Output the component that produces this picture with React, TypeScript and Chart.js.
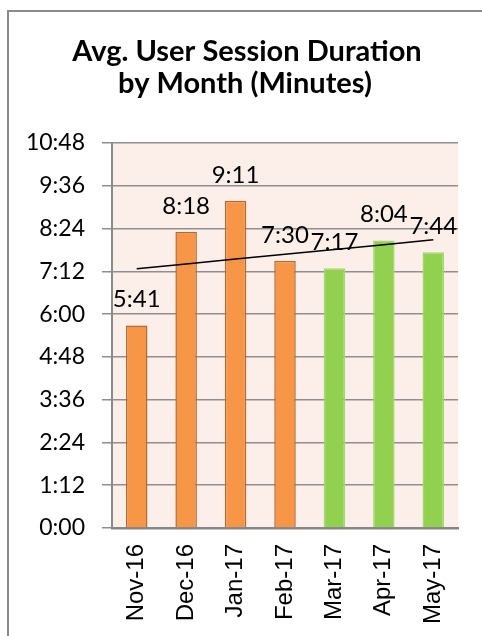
import React, { useEffect, useRef } from "react";
import { Chart, registerables } from "chart.js";

Chart.register(...registerables);

const titleLines = ["Avg. User Session Duration", "by Month (Minutes)"];
const categories = ["Nov-16", "Dec-16", "Jan-17", "Feb-17", "Mar-17", "Apr-17", "May-17"];
// average session duration in seconds (5:41, 8:18, 9:11, 7:30, 7:17, 8:04, 7:44)
const durationSeconds = [341, 498, 551, 450, 437, 484, 464];
const isRecentPeriod = [false, false, false, false, true, true, true];
const yMax = 648; // 10:48
const yStep = 72; // 1:12

const ORANGE = "#F79646";
const ORANGE_BORDER = "#B5692E";
const GREEN = "#92D050";
const GREEN_BORDER = "#A3D86B";

function fmt(sec: number): string {
  const m = Math.floor(sec / 60);
  const s = Math.round(sec - m * 60);
  return `${m}:${s < 10 ? "0" : ""}${s}`;
}

function linearTrend(values: number[]): number[] {
  const n = values.length;
  const mx = (n - 1) / 2;
  const my = values.reduce((a, b) => a + b, 0) / n;
  let sxy = 0;
  let sxx = 0;
  values.forEach((v, i) => {
    sxy += (i - mx) * (v - my);
    sxx += (i - mx) * (i - mx);
  });
  const slope = sxy / sxx;
  return values.map((_, i) => my + slope * (i - mx));
}

const decorPlugin = {
  id: "decor",
  beforeDraw(chart: any) {
    const { ctx, chartArea, width, height } = chart;
    ctx.save();
    ctx.fillStyle = "#FFFFFF";
    ctx.fillRect(0, 0, width, height);
    ctx.fillStyle = "#FCEEE9";
    ctx.fillRect(chartArea.left, chartArea.top, chartArea.right - chartArea.left, chartArea.bottom - chartArea.top);
    ctx.restore();
  },
  afterDraw(chart: any) {
    const { ctx, width, height } = chart;
    ctx.save();
    // outer frame
    ctx.strokeStyle = "#8A8A8A";
    ctx.lineWidth = 2;
    ctx.beginPath();
    ctx.moveTo(8, height);
    ctx.lineTo(8, 11);
    ctx.lineTo(width, 11);
    ctx.stroke();
    // title
    ctx.fillStyle = "#000000";
    ctx.font = "bold 29px Lato";
    ctx.textAlign = "center";
    ctx.textBaseline = "alphabetic";
    ctx.fillText(titleLines[0], 247, 61);
    ctx.fillText(titleLines[1], 245, 93);
    ctx.restore();
  },
  afterDatasetsDraw(chart: any) {
    const { ctx } = chart;
    const meta = chart.getDatasetMeta(0);
    ctx.save();
    ctx.fillStyle = "#000000";
    ctx.font = "24px Lato";
    ctx.textAlign = "center";
    ctx.textBaseline = "alphabetic";
    meta.data.forEach((bar: any, i: number) => {
      ctx.fillText(fmt(durationSeconds[i]), bar.x, bar.y - 18);
    });
    ctx.restore();
  },
};

export default function App() {
  const ref = useRef<HTMLCanvasElement | null>(null);
  useEffect(() => {
    if (!ref.current) return;
    const chart = new Chart(ref.current, {
      type: "bar",
      data: {
        labels: categories,
        datasets: [
          {
            type: "bar",
            data: durationSeconds,
            backgroundColor: isRecentPeriod.map((r) => (r ? GREEN : ORANGE)),
            borderColor: isRecentPeriod.map((r) => (r ? GREEN_BORDER : ORANGE_BORDER)),
            borderWidth: 1.5,
            barPercentage: 0.435,
            categoryPercentage: 1,
            order: 1,
          } as any,
          {
            type: "line",
            data: linearTrend(durationSeconds),
            borderColor: "#000000",
            borderWidth: 1.5,
            pointRadius: 0,
            fill: false,
            order: 0,
          } as any,
        ],
      },
      options: {
        responsive: false,
        devicePixelRatio: 1,
        animation: false,
        layout: { padding: { top: 143, left: 0, right: 24, bottom: 0 } },
        plugins: { legend: { display: false }, tooltip: { enabled: false }, title: { display: false } },
        scales: {
          x: {
            afterFit: (s: any) => {
              s.height = 108;
            },
            grid: { display: false, drawTicks: false },
            border: { display: true, color: "#878787", width: 2.5 },
            ticks: {
              minRotation: 90,
              maxRotation: 90,
              padding: 16,
              color: "#000000",
              font: { family: "Liberation Sans", size: 24 },
            },
          },
          y: {
            min: 0,
            max: yMax,
            afterFit: (s: any) => {
              s.width = 112;
            },
            grid: { color: "#8F8F8F", lineWidth: 1.5, tickLength: 10, drawTicks: true },
            border: { display: true, color: "#8A8A8A", width: 2 },
            ticks: {
              stepSize: yStep,
              padding: 17,
              color: "#000000",
              font: { family: "Lato", size: 23 },
              callback: (v: any) => fmt(Number(v)),
            },
          },
        },
      },
      plugins: [decorPlugin],
    });
    return () => chart.destroy();
  }, []);
  return (
    <div style={{ position: "absolute", left: 0, top: 0, width: 482, height: 636 }}>
      <canvas ref={ref} width={482} height={636} style={{ display: "block", width: 482, height: 636 }} />
    </div>
  );
}
